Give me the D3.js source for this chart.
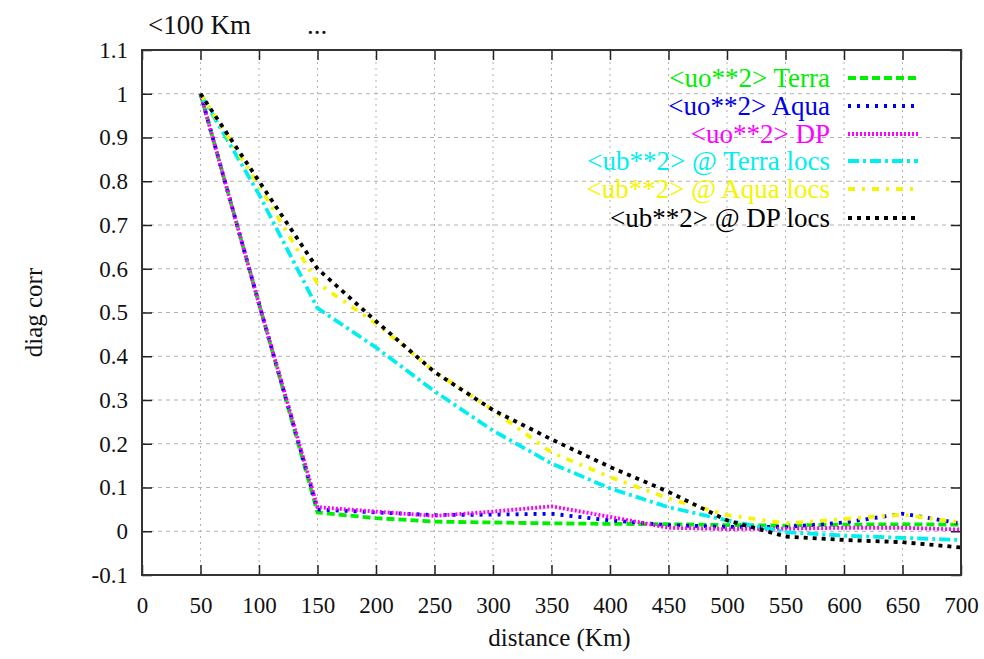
<!DOCTYPE html>
<html>
<head>
<meta charset="utf-8">
<script src="https://cdn.jsdelivr.net/npm/d3@7"></script>
<style>
  body { margin: 0; background: #fff; }
</style>
</head>
<body>
<div class="chart"></div>
<script>
// distance (Km) for every sample
const distances = [50, 100, 150, 200, 250, 300, 350, 400, 450, 500, 550, 600, 650, 700];

const uoTerra = [1.0, 0.52, 0.043, 0.03, 0.022, 0.02, 0.018, 0.017, 0.016, 0.014, 0.013, 0.015, 0.016, 0.015];
const uoAqua  = [1.0, 0.52, 0.05, 0.043, 0.037, 0.038, 0.04, 0.025, 0.014, 0.01, 0.01, 0.02, 0.04, 0.018];
const uoDP    = [1.0, 0.52, 0.055, 0.045, 0.035, 0.045, 0.057, 0.033, 0.008, 0.005, 0.006, 0.008, 0.008, 0.004];
const ubTerra = [1.0, 0.77, 0.51, 0.42, 0.32, 0.23, 0.155, 0.098, 0.055, 0.025, -0.002, -0.01, -0.015, -0.02];
const ubAqua  = [1.0, 0.79, 0.567, 0.475, 0.365, 0.277, 0.18, 0.124, 0.075, 0.037, 0.018, 0.028, 0.038, 0.02];
const ubDP    = [1.0, 0.80, 0.60, 0.48, 0.364, 0.277, 0.21, 0.147, 0.09, 0.025, -0.012, -0.02, -0.025, -0.037];

const seriesNames = ["<uo**2> Terra", "<uo**2> Aqua", "<uo**2> DP",
                     "<ub**2> @ Terra locs", "<ub**2> @ Aqua locs", "<ub**2> @ DP locs"];

const xTicks = [0, 50, 100, 150, 200, 250, 300, 350, 400, 450, 500, 550, 600, 650, 700];
const yTicks = [-0.1, 0, 0.1, 0.2, 0.3, 0.4, 0.5, 0.6, 0.7, 0.8, 0.9, 1, 1.1];

const FONT = "'Liberation Serif', 'Times New Roman', serif";

const W = 984, H = 659;
const margin = {top: 50, right: 23, bottom: 84, left: 142};
const width = W - margin.left - margin.right,
      height = H - margin.top - margin.bottom;

const styles = [
  {color: "#00ee00", dash: "8,4"},
  {color: "#0000ee", dash: "3,6"},
  {color: "#ff00ff", dash: "2,2"},
  {color: "#00eeee", dash: "11,4,3,4"},
  {color: "#f5f500", dash: "7,7,3,7"},
  {color: "#000000", dash: "4,5"}
];
const allSeries = [uoTerra, uoAqua, uoDP, ubTerra, ubAqua, ubDP];

const svg = d3.select(".chart").append("svg")
    .attr("width", W).attr("height", H)
    .style("font-family", FONT);

const g = svg.append("g")
    .attr("transform", "translate(" + margin.left + "," + margin.top + ")");

const x = d3.scaleLinear().domain([0, 700]).range([0, width]);
const y = d3.scaleLinear().domain([-0.1, 1.1]).range([height, 0]);

// grid
g.append("g").selectAll("line").data(xTicks.slice(1, -1)).join("line")
    .attr("x1", d => x(d)).attr("x2", d => x(d))
    .attr("y1", 0).attr("y2", height)
    .attr("stroke", "#b0b0b0").attr("stroke-width", 1).attr("stroke-dasharray", "2,4");
g.append("g").selectAll("line").data(yTicks.slice(1, -1)).join("line")
    .attr("x1", 0).attr("x2", width)
    .attr("y1", d => y(d)).attr("y2", d => y(d))
    .attr("stroke", "#b0b0b0").attr("stroke-width", 1).attr("stroke-dasharray", "4,4");

// axes with inward ticks, mirrored on top and right
const fmt = d => String(+d.toFixed(1));
const axisStyle = sel => {
  sel.attr("font-family", null);
  sel.select(".domain").remove();
  sel.selectAll(".tick line").attr("stroke", "#222").attr("stroke-width", 1.5);
  sel.selectAll(".tick text").attr("font-size", 23).attr("fill", "#111")
     .style("font-family", FONT);
};
g.append("g").attr("transform", "translate(0," + height + ")")
    .call(d3.axisBottom(x).tickValues(xTicks).tickSizeInner(-10).tickPadding(22).tickFormat(fmt))
    .call(axisStyle);
g.append("g")
    .call(d3.axisTop(x).tickValues(xTicks).tickSizeInner(-10).tickFormat(""))
    .call(axisStyle);
g.append("g")
    .call(d3.axisLeft(y).tickValues(yTicks).tickSizeInner(-10).tickPadding(14).tickFormat(fmt))
    .call(axisStyle);
g.append("g").attr("transform", "translate(" + width + ",0)")
    .call(d3.axisRight(y).tickValues(yTicks).tickSizeInner(-10).tickFormat(""))
    .call(axisStyle);

// lines
const line = d3.line().x((d, i) => x(distances[i])).y(d => y(d));
g.append("defs").append("clipPath").attr("id", "clip")
  .append("rect").attr("width", width).attr("height", height);
g.append("g").attr("clip-path", "url(#clip)")
  .selectAll("path").data(allSeries).join("path")
    .attr("d", line)
    .attr("fill", "none")
    .attr("stroke", (d, i) => styles[i].color)
    .attr("stroke-width", 3.8)
    .attr("stroke-dasharray", (d, i) => styles[i].dash);

// border
g.append("rect").attr("width", width).attr("height", height)
    .attr("fill", "none").attr("stroke", "#333").attr("stroke-width", 2);

// legend
const legend = g.append("g").attr("transform", "translate(" + (830 - margin.left) + "," + (78 - margin.top) + ")");
const rows = [0, 28, 56, 83, 111, 140];
seriesNames.forEach((name, i) => {
  const row = legend.append("g").attr("transform", "translate(0," + rows[i] + ")");
  row.append("text").attr("x", 0).attr("y", 0).attr("dy", "0.35em")
     .attr("text-anchor", "end").attr("font-size", 27)
     .attr("fill", styles[i].color).text(name);
  row.append("line").attr("x1", 18).attr("x2", 88).attr("y1", 0).attr("y2", 0)
     .attr("stroke", styles[i].color).attr("stroke-width", 3.8)
     .attr("stroke-dasharray", styles[i].dash);
});

// labels
svg.append("text").attr("x", 148).attr("y", 34).attr("font-size", 27).attr("fill", "#111")
   .text("<100 Km");
svg.append("text").attr("x", 307).attr("y", 34).attr("font-size", 27).attr("fill", "#111")
   .text("...");
svg.append("text").attr("text-anchor", "middle")
   .attr("transform", "translate(42," + (margin.top + height / 2) + ") rotate(-90)")
   .attr("font-size", 25).attr("fill", "#111").text("diag corr");
svg.append("text").attr("x", margin.left + width / 2 + 8).attr("y", 646)
   .attr("text-anchor", "middle").attr("font-size", 25).attr("fill", "#111")
   .text("distance (Km)");
</script>
</body>
</html>
